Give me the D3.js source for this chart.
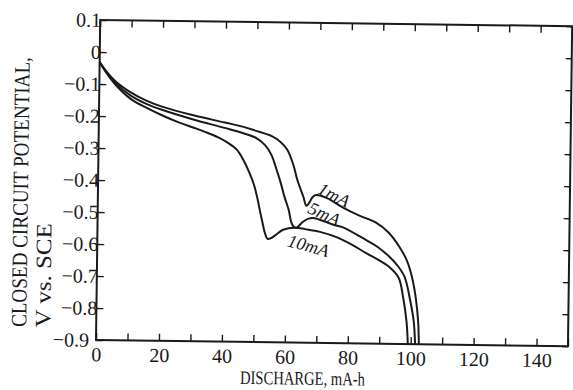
<!DOCTYPE html>
<html>
<head>
<meta charset="utf-8">
<script src="https://cdn.jsdelivr.net/npm/d3@7"></script>
<style>
  html, body { margin: 0; padding: 0; background: #fff; }
  svg { display: block; }
  text { font-family: "Liberation Serif", "DejaVu Serif", serif; fill: #1a1a1a; }
</style>
</head>
<body>
<svg id="chart" width="573" height="390"></svg>
<script>
// Discharge curves: [capacity mA-h, closed circuit potential V vs. SCE]
const curve1mA = [[0,-0.031],[2,-0.058],[5,-0.09],[10,-0.125],[15,-0.15],[20,-0.168],[30,-0.194],[40,-0.215],[46,-0.228],[50,-0.24],[55,-0.256],[58,-0.275],[60,-0.298],[62,-0.345],[63.3,-0.391],[65.3,-0.444],[66.3,-0.472],[67.2,-0.462],[68.2,-0.445],[69.3,-0.438],[72.8,-0.447],[78.1,-0.477],[83,-0.5],[88.5,-0.522],[92.5,-0.552],[96,-0.596],[98.5,-0.64],[100.1,-0.689],[101.5,-0.76],[102.3,-0.83],[102.6,-0.9]];
const curve5mA = [[0,-0.031],[2,-0.06],[5,-0.095],[10,-0.135],[15,-0.16],[20,-0.178],[30,-0.207],[40,-0.232],[46,-0.248],[50,-0.262],[53,-0.285],[55,-0.315],[56.5,-0.355],[58,-0.40],[59.3,-0.445],[60.7,-0.486],[61.5,-0.522],[62.3,-0.538],[63.2,-0.541],[65.3,-0.522],[67,-0.512],[68.5,-0.51],[71.5,-0.518],[75,-0.53],[78,-0.538],[85.3,-0.576],[89,-0.597],[92.8,-0.627],[95.5,-0.655],[97.8,-0.69],[99.6,-0.76],[100.9,-0.83],[101.4,-0.9]];
const curve10mA = [[0,-0.031],[2,-0.062],[5,-0.1],[10,-0.145],[15,-0.172],[20,-0.195],[25,-0.215],[30,-0.232],[34,-0.246],[38,-0.262],[41,-0.278],[44,-0.30],[46,-0.33],[48,-0.37],[49.6,-0.41],[50.8,-0.455],[51.7,-0.496],[52.5,-0.53],[53.2,-0.558],[54.1,-0.577],[55.3,-0.574],[56.7,-0.564],[59,-0.548],[62.8,-0.541],[66,-0.545],[70.7,-0.553],[76.4,-0.57],[81,-0.592],[85.2,-0.616],[89,-0.636],[92.8,-0.659],[95.9,-0.693],[97.4,-0.753],[98.6,-0.83],[99.1,-0.9]];

// Current labels and where they sit along each curve (data units)
const seriesNames = ["1mA", "5mA", "10mA"];
const labelCapacity = [75.0, 72.0, 67.1];
const labelPotential = [-0.437, -0.497, -0.597];
const labelAngle = [26, 24, 15];

// Axis ticks
const xTicks = [0,10,20,30,40,50,60,70,80,90,100,110,120,130,140,150];
const xTickLabels = [0,20,40,60,80,100,120,140];
const yTicks = [0.1,0,-0.1,-0.2,-0.3,-0.4,-0.5,-0.6,-0.7,-0.8,-0.9];

const svg = d3.select("#chart");
const ink = "#1a1a1a";

const x = d3.scaleLinear().domain([0, 150]).range([96, 568]);
const y = d3.scaleLinear().domain([0.1, -0.9]).range([20, 340]);

const g = svg.append("g").attr("transform", "rotate(0.75, 96, 340)");

const fmtY = d => d === 0 ? "0" : d3.format(".1f")(d);

function styleAxis(sel) {
  sel.select(".domain").remove();
  sel.selectAll(".tick line").attr("stroke", ink).attr("stroke-width", 1.4);
  sel.selectAll(".tick text").attr("fill", ink).attr("font-size", 20)
     .attr("font-family", "Liberation Serif, DejaVu Serif, serif");
}

// bottom axis with labels every 20
g.append("g").attr("transform", `translate(0,${y(-0.9)})`)
  .call(d3.axisBottom(x).tickValues(xTicks).tickSize(-7).tickPadding(7)
    .tickFormat(d => xTickLabels.includes(d) ? d : ""))
  .call(styleAxis);
// top axis, ticks only
g.append("g").attr("transform", `translate(0,${y(0.1)})`)
  .call(d3.axisTop(x).tickValues(xTicks).tickSize(-7).tickFormat(""))
  .call(styleAxis);
// left axis
const leftAxis = g.append("g").attr("transform", `translate(${x(0)},0)`)
  .call(d3.axisLeft(y).tickValues(yTicks).tickSize(-7).tickPadding(-1).tickFormat(fmtY))
  .call(styleAxis);
// the lowest label steps aside for the x-axis origin label
leftAxis.selectAll(".tick").filter(d => d === -0.9).select("text").attr("x", -7);
// right axis, ticks only
g.append("g").attr("transform", `translate(${x(150)},0)`)
  .call(d3.axisRight(y).tickValues(yTicks).tickSize(-6).tickFormat(""))
  .call(styleAxis);

// frame
g.append("rect")
  .attr("x", x(0)).attr("y", y(0.1))
  .attr("width", x(150) - x(0)).attr("height", y(-0.9) - y(0.1))
  .attr("fill", "none").attr("stroke", ink).attr("stroke-width", 2);

// curves
const line = d3.line()
  .x(d => x(d[0])).y(d => y(d[1]))
  .curve(d3.curveCatmullRom.alpha(0.5));

[curve1mA, curve5mA, curve10mA].forEach(c => {
  g.append("path").datum(c)
    .attr("d", line)
    .attr("fill", "none")
    .attr("stroke", ink)
    .attr("stroke-width", 2)
    .attr("stroke-linejoin", "round");
});

// current labels
seriesNames.forEach((name, i) => {
  const px = x(labelCapacity[i]), py = y(labelPotential[i]);
  g.append("text")
    .attr("transform", `translate(${px},${py}) rotate(${labelAngle[i]})`)
    .attr("text-anchor", "middle")
    .attr("dominant-baseline", "central")
    .attr("font-size", 18)
    .attr("font-style", "italic")
    .text(name);
});

// axis titles
g.append("text")
  .attr("x", 240.5).attr("y", 382)
  .attr("font-size", 19)
  .attr("textLength", 125).attr("lengthAdjust", "spacingAndGlyphs")
  .text("DISCHARGE, mA-h");

g.append("text")
  .attr("transform", "translate(26,328) rotate(-90)")
  .attr("font-size", 22)
  .attr("textLength", 270).attr("lengthAdjust", "spacingAndGlyphs")
  .text("CLOSED CIRCUIT POTENTIAL,");

g.append("text")
  .attr("transform", "translate(50,328) rotate(-90)")
  .attr("font-size", 22)
  .attr("textLength", 104).attr("lengthAdjust", "spacingAndGlyphs")
  .text("V vs. SCE");
</script>
</body>
</html>
